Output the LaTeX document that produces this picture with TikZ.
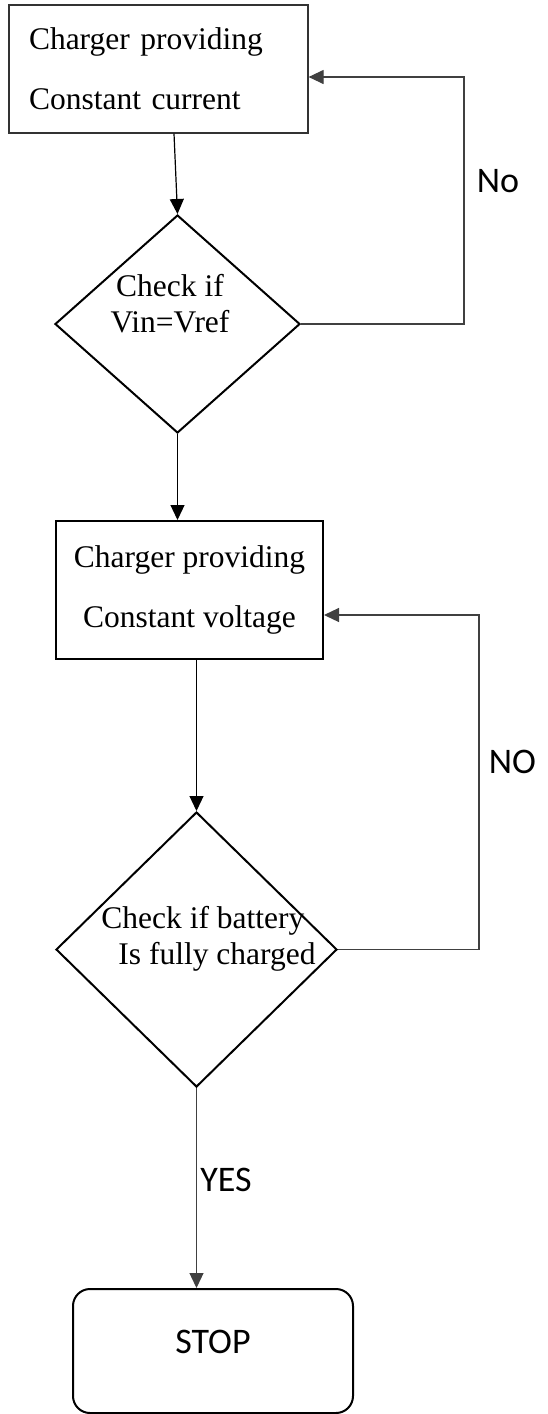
\documentclass[tikz,border=0pt]{standalone}
\usepackage{fontspec}
\setmainfont{Liberation Serif}
\newfontfamily\calibri{Carlito}
\usetikzlibrary{shapes.geometric, positioning, arrows.meta}

\tikzset{
  boite/.style={draw, rectangle, font=\fontsize{31.5}{60}\selectfont},
  decision/.style={draw, diamond, line width=2pt, inner sep=0pt},
  dtexte/.style={inner sep=0pt, font=\fontsize{31.5}{36}\selectfont},
  fin/.style={draw, rectangle, rounded corners=17pt, line width=2pt},
  lbl/.style={font=\calibri\fontsize{36}{40}\selectfont},
  fleche/.style={line width=1.2pt, draw=black!75, -{Triangle[length=15pt,width=14pt]}}
}

\begin{document}
\begin{tikzpicture}[x=1pt, y=-1pt]
            \useasboundingbox (0,0) rectangle (547,1414);
            % Courant constant
            \node[boite, draw=black!80, line width=1.2pt, align=left, text width=259pt,
                  inner xsep=20pt, minimum height=128pt] (cc) at (158.5,69)
                  {Charger providing\\Constant current};
            % Premier test
            \node[decision, minimum width=245pt, minimum height=218pt] (d1) at (177.5,324) {};
            \node[dtexte, align=center] (d1txt) at (170,304) {Check if\\Vin=Vref};
            % Tension constante
            \node[boite, line width=2pt, align=center, minimum width=267pt,
                  minimum height=138pt] (cv) at (189.5,590)
                  {Charger providing\\Constant voltage};
            % Second test
            \node[decision, minimum width=281pt, minimum height=275pt] (d2) at (196.5,949.5) {};
            \node[dtexte, align=left] (d2txt) at (208.5,939)
                  {Check if battery\\\hspace*{17pt}Is fully charged};
            % Fin
            \node[fin, lbl, minimum width=280pt, minimum height=124pt, text depth=19pt]
                  (stop) at (213,1351) {STOP};
            % Liaisons
            \draw[fleche, draw=black] ([xshift=15.5pt]cc.south) -- (d1.north);
            \draw[fleche] (d1.east) -- ++(163,0) |- node[lbl, right, xshift=9pt, pos=0.29] (no1) {No}
                  ([yshift=-8pt]cc.east);
            \draw[fleche, draw=black] (d1.south) -- (d1.south |- cv.north);
            \draw[fleche, draw=black] (d2.north |- cv.south) -- (d2.north);
            \draw[fleche] (d2.east) -- ++(141,0) |- node[lbl, right, xshift=6pt, pos=0.28] (no2) {NO}
                  ([yshift=-25pt]cv.east);
            \draw[fleche] (d2.south) -- node[lbl, right, pos=0.46] (yes) {YES}
                  (d2.south |- stop.north);
        \end{tikzpicture}
\end{document}
